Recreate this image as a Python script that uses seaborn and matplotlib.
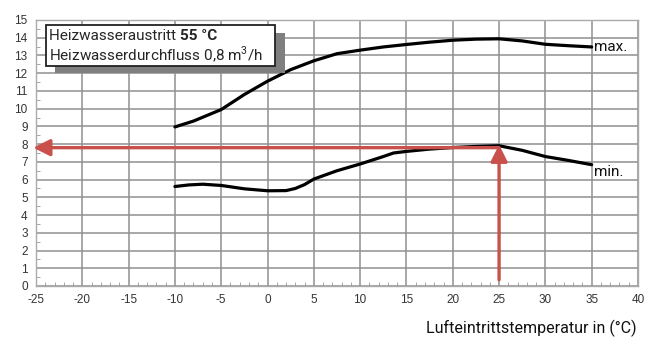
import matplotlib
matplotlib.use("Agg")
import matplotlib.pyplot as plt
import seaborn as sns
import pandas as pd
from matplotlib.ticker import MultipleLocator
from matplotlib.patches import Rectangle

# ---- data ----
max_x = [-10, -8, -5, -2.5, 0, 2.5, 5, 7.5, 10, 12.5, 15, 17.5, 20, 22.5, 25, 27.5, 30, 32.5, 35]
max_y = [8.97, 9.3, 9.95, 10.8, 11.55, 12.2, 12.7, 13.1, 13.3, 13.48, 13.62, 13.75, 13.86, 13.92, 13.94, 13.82, 13.63, 13.55, 13.48]
min_x = [-10, -8.5, -7, -5, -2.5, 0, 2, 3, 4, 5, 7.5, 10, 12.5, 13.6, 15, 17.5, 20, 22.5, 25, 27.5, 30, 32.5, 35]
min_y = [5.61, 5.7, 5.74, 5.67, 5.48, 5.37, 5.38, 5.5, 5.72, 6.03, 6.5, 6.88, 7.3, 7.5, 7.59, 7.72, 7.81, 7.87, 7.91, 7.65, 7.3, 7.08, 6.84]
x_ticks = list(range(-25, 41, 5))
y_ticks = list(range(0, 16))
op_x = 25
op_y = 7.8
arrow_h_end = -25.3
arrow_v_start = 0.35
arrow_v_end = 7.97
box_line1 = "Heizwasseraustritt "
box_bold = "55 °C"
box_line2 = "Heizwasserdurchfluss 0,8 m$^3$/h"
xlabel = "Lufteintrittstemperatur in (°C)"

sns.set_style("white")
plt.rcParams['font.family'] = ['Liberation Sans', 'DejaVu Sans']
plt.rcParams['axes.unicode_minus'] = False
plt.rcParams['mathtext.fontset'] = 'custom'
plt.rcParams['mathtext.rm'] = 'Roboto'

fig = plt.figure(figsize=(6.47, 3.38), dpi=100)
ax = fig.add_axes([36/647, 1-286/338, 602/647, 266/338])

df = pd.concat([
    pd.DataFrame({"x": max_x, "y": max_y, "s": "max"}),
    pd.DataFrame({"x": min_x, "y": min_y, "s": "min"}),
])
sns.lineplot(data=df, x="x", y="y", units="s", estimator=None, color="black",
             linewidth=2.3, ax=ax, sort=False, legend=False, zorder=3,
             solid_joinstyle="round", solid_capstyle="round")

ax.set_xlim(-25, 40)
ax.set_ylim(0, 15)
ax.set_xticks(x_ticks)
ax.set_yticks(y_ticks)
ax.xaxis.set_minor_locator(MultipleLocator(1))
ax.yaxis.set_minor_locator(MultipleLocator(0.5))
ax.grid(True, which="major", color="#8f8f8f", linewidth=1.1)
for s in ax.spines.values():
    s.set_color("#aaaaaa")
    s.set_linewidth(1.0)
ax.tick_params(axis="both", which="major", labelsize=8.5, colors="#333333", length=0, pad=6)
ax.tick_params(axis="x", which="minor", direction="in", length=3, color="#999999", bottom=True)
ax.tick_params(axis="y", which="minor", direction="in", length=3, color="#999999", left=True)
ax.set_xlabel("")
ax.set_ylabel("")

red = "#c9504b"
ax.annotate("", xy=(arrow_h_end, op_y), xytext=(op_x, op_y), annotation_clip=False,
            arrowprops=dict(arrowstyle="-|>,head_length=1.0,head_width=0.5", color=red, lw=2.4,
                            shrinkA=0, shrinkB=0), zorder=4)
ax.annotate("", xy=(op_x, arrow_v_end), xytext=(op_x, arrow_v_start), annotation_clip=False,
            arrowprops=dict(arrowstyle="-|>,head_length=1.0,head_width=0.5", color=red, lw=2.4,
                            shrinkA=0, shrinkB=0), zorder=4)

fam = ["Roboto", "DejaVu Sans"]
ax.text(35.3, max_y[-1], "max.", fontsize=11, family=fam, color="#111111",
        va="center", ha="left")
ax.text(35.3, min_y[-1] - 0.4, "min.", fontsize=11, family=fam, color="#111111",
        va="center", ha="left")

# text box with shadow (figure pixel coords)
def fpx(x, y):
    return (x/647, 1-y/338)
sx0, sy0 = fpx(55, 73)
fig.patches.append(Rectangle((sx0, sy0), (285-55)/647, (73-33)/338, transform=fig.transFigure,
                             facecolor="#7f7f7f", edgecolor="none", zorder=5))
bx0, by0 = fpx(46, 66)
fig.patches.append(Rectangle((bx0, by0), (275-46)/647, (66-25)/338, transform=fig.transFigure,
                             facecolor="white", edgecolor="#222222", linewidth=1.3, zorder=6))
t1 = fig.text(49/647, 1-36/338, box_line1, fontsize=11, family=fam,
              va="center", ha="left", zorder=7)
fig.canvas.draw()
bb = t1.get_window_extent()
fig.text(bb.x1/647, 1-36/338, box_bold, fontsize=11, fontweight="bold",
         family=fam, va="center", ha="left", zorder=7)
fig.text(49/647, 1-55/338, box_line2, fontsize=11, family=fam,
         va="center", ha="left", zorder=7)

fig.text(637/647, 1-328/338, xlabel, fontsize=11.5, family=fam,
         color="#111111", ha="right", va="center")

fig.savefig("out.png", dpi=100)
